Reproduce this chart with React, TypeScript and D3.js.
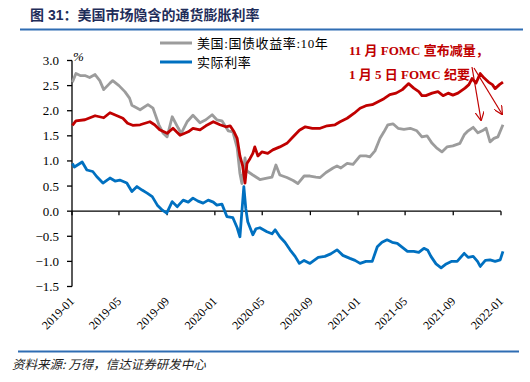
import React from "react";
import * as d3 from "d3";

// ---- data ----
const nominal10y: [string, number][] = [
  ["2019-01-02", 2.57], ["2019-01-11", 2.74], ["2019-01-22", 2.70], ["2019-02-03", 2.70], ["2019-02-15", 2.66],
  ["2019-03-01", 2.72], ["2019-03-13", 2.60], ["2019-03-23", 2.42], ["2019-04-08", 2.55], ["2019-04-15", 2.60],
  ["2019-05-01", 2.50], ["2019-05-16", 2.38], ["2019-05-28", 2.25], ["2019-06-03", 2.11], ["2019-06-24", 2.02],
  ["2019-07-14", 2.12], ["2019-07-27", 2.05], ["2019-08-11", 1.72], ["2019-08-22", 1.55], ["2019-09-01", 1.48],
  ["2019-09-14", 1.88], ["2019-09-29", 1.66], ["2019-10-07", 1.55], ["2019-10-22", 1.78], ["2019-11-06", 1.91],
  ["2019-11-24", 1.76], ["2019-12-09", 1.82], ["2019-12-25", 1.92], ["2020-01-06", 1.82], ["2020-01-19", 1.80],
  ["2020-02-04", 1.60], ["2020-02-16", 1.58], ["2020-02-27", 1.26], ["2020-03-05", 0.75], ["2020-03-10", 0.55],
  ["2020-03-18", 1.06], ["2020-03-23", 0.80], ["2020-04-07", 0.72], ["2020-04-25", 0.63], ["2020-05-13", 0.66],
  ["2020-05-26", 0.68], ["2020-06-05", 0.92], ["2020-06-15", 0.72], ["2020-07-03", 0.67], ["2020-07-19", 0.61],
  ["2020-07-31", 0.55], ["2020-08-16", 0.70], ["2020-08-31", 0.70], ["2020-09-15", 0.68], ["2020-09-26", 0.67],
  ["2020-10-11", 0.77], ["2020-10-29", 0.86], ["2020-11-08", 0.90], ["2020-11-18", 0.86], ["2020-12-04", 0.95],
  ["2020-12-19", 0.93], ["2021-01-06", 1.10], ["2021-01-21", 1.10], ["2021-01-31", 1.08], ["2021-02-13", 1.20],
  ["2021-02-26", 1.45], ["2021-03-08", 1.58], ["2021-03-18", 1.72], ["2021-03-31", 1.74], ["2021-04-13", 1.65],
  ["2021-04-28", 1.63], ["2021-05-14", 1.65], ["2021-05-31", 1.60], ["2021-06-13", 1.48], ["2021-06-26", 1.50],
  ["2021-07-09", 1.35], ["2021-07-22", 1.25], ["2021-08-03", 1.18], ["2021-08-16", 1.28], ["2021-08-31", 1.30],
  ["2021-09-18", 1.35], ["2021-09-29", 1.52], ["2021-10-09", 1.60], ["2021-10-22", 1.67], ["2021-11-03", 1.56],
  ["2021-11-14", 1.60], ["2021-11-24", 1.65], ["2021-12-04", 1.38], ["2021-12-14", 1.45], ["2021-12-24", 1.48],
  ["2022-01-06", 1.72],
];

const realRate: [string, number][] = [
  ["2019-01-02", 0.95], ["2019-01-07", 0.88], ["2019-01-27", 0.98], ["2019-02-08", 0.82], ["2019-02-23", 0.79],
  ["2019-03-05", 0.69], ["2019-03-21", 0.56], ["2019-04-08", 0.66], ["2019-04-21", 0.60], ["2019-05-03", 0.62],
  ["2019-05-21", 0.56], ["2019-06-03", 0.39], ["2019-06-16", 0.49], ["2019-06-29", 0.42], ["2019-07-12", 0.36],
  ["2019-07-25", 0.29], ["2019-08-07", 0.12], ["2019-08-20", 0.02], ["2019-08-31", -0.04], ["2019-09-14", 0.19],
  ["2019-09-27", 0.09], ["2019-10-12", 0.22], ["2019-10-25", 0.18], ["2019-11-06", 0.26], ["2019-11-19", 0.20],
  ["2019-12-02", 0.16], ["2019-12-15", 0.22], ["2019-12-28", 0.18], ["2020-01-06", 0.12], ["2020-01-19", 0.14],
  ["2020-02-01", -0.11], ["2020-02-16", -0.13], ["2020-02-27", -0.33], ["2020-03-05", -0.51], ["2020-03-15", 0.49],
  ["2020-03-20", 0.05], ["2020-03-25", -0.21], ["2020-04-07", -0.47], ["2020-04-15", -0.35], ["2020-04-25", -0.33],
  ["2020-05-13", -0.41], ["2020-05-26", -0.45], ["2020-06-03", -0.37], ["2020-06-15", -0.51], ["2020-06-28", -0.62],
  ["2020-07-11", -0.77], ["2020-07-24", -0.90], ["2020-08-04", -1.04], ["2020-08-16", -0.98], ["2020-08-31", -1.04],
  ["2020-09-21", -0.92], ["2020-10-08", -0.90], ["2020-10-23", -0.85], ["2020-11-08", -0.77], ["2020-11-23", -0.88],
  ["2020-12-11", -0.94], ["2020-12-24", -0.98], ["2021-01-06", -1.04], ["2021-01-21", -1.00], ["2021-02-06", -1.00],
  ["2021-02-19", -0.71], ["2021-03-03", -0.62], ["2021-03-16", -0.57], ["2021-03-29", -0.62], ["2021-04-11", -0.64],
  ["2021-04-24", -0.72], ["2021-05-07", -0.80], ["2021-05-23", -0.80], ["2021-06-05", -0.82], ["2021-06-18", -0.74],
  ["2021-06-28", -0.78], ["2021-07-06", -0.90], ["2021-07-19", -1.05], ["2021-08-01", -1.13], ["2021-08-14", -1.05],
  ["2021-08-27", -1.00], ["2021-09-11", -1.00], ["2021-09-29", -0.84], ["2021-10-09", -0.92], ["2021-10-22", -0.90],
  ["2021-11-02", -1.00], ["2021-11-09", -1.10], ["2021-11-22", -0.98], ["2021-12-04", -0.97], ["2021-12-17", -1.00],
  ["2021-12-30", -0.97], ["2022-01-06", -0.80],
];

const breakeven: [string, number][] = [
  ["2019-01-02", 1.71], ["2019-01-11", 1.80], ["2019-02-03", 1.82], ["2019-03-01", 1.90], ["2019-03-23", 1.86],
  ["2019-04-08", 1.96], ["2019-04-26", 1.90], ["2019-05-11", 1.85], ["2019-05-23", 1.75], ["2019-06-05", 1.71],
  ["2019-06-24", 1.72], ["2019-07-19", 1.78], ["2019-07-31", 1.72], ["2019-08-13", 1.62], ["2019-09-01", 1.55],
  ["2019-09-16", 1.65], ["2019-10-04", 1.51], ["2019-10-25", 1.58], ["2019-11-06", 1.65], ["2019-11-24", 1.62],
  ["2019-12-09", 1.70], ["2019-12-28", 1.78], ["2020-01-14", 1.72], ["2020-01-29", 1.68], ["2020-02-09", 1.70],
  ["2020-02-19", 1.58], ["2020-02-27", 1.45], ["2020-03-05", 1.10], ["2020-03-12", 0.90], ["2020-03-18", 0.56],
  ["2020-03-23", 0.95], ["2020-03-31", 1.05], ["2020-04-07", 1.15], ["2020-04-12", 1.28], ["2020-04-20", 1.10],
  ["2020-04-30", 1.18], ["2020-05-15", 1.15], ["2020-05-28", 1.22], ["2020-06-15", 1.28], ["2020-07-03", 1.35],
  ["2020-07-19", 1.48], ["2020-08-04", 1.61], ["2020-08-19", 1.68], ["2020-09-06", 1.65], ["2020-09-26", 1.65],
  ["2020-10-14", 1.70], ["2020-11-03", 1.72], ["2020-11-16", 1.78], ["2020-12-04", 1.85], ["2020-12-22", 1.95],
  ["2021-01-06", 2.05], ["2021-01-21", 2.10], ["2021-02-06", 2.12], ["2021-02-21", 2.18], ["2021-03-08", 2.24],
  ["2021-03-23", 2.32], ["2021-04-08", 2.35], ["2021-04-24", 2.42], ["2021-05-10", 2.54], ["2021-05-23", 2.45],
  ["2021-06-05", 2.38], ["2021-06-13", 2.30], ["2021-06-23", 2.30], ["2021-07-09", 2.35], ["2021-07-24", 2.38],
  ["2021-08-06", 2.30], ["2021-08-19", 2.35], ["2021-08-31", 2.31], ["2021-09-13", 2.35], ["2021-10-01", 2.45],
  ["2021-10-11", 2.52], ["2021-10-19", 2.64], ["2021-10-29", 2.55], ["2021-11-09", 2.74], ["2021-11-19", 2.65],
  ["2021-11-30", 2.57], ["2021-12-10", 2.52], ["2021-12-17", 2.44], ["2021-12-28", 2.52], ["2022-01-06", 2.57],
];

const yTicks = [3.0, 2.5, 2.0, 1.5, 1.0, 0.5, 0.0, -0.5, -1.0, -1.5];
const xTickLabels = ["2019-01", "2019-05", "2019-09", "2020-01", "2020-05", "2020-09", "2021-01", "2021-05", "2021-09", "2022-01"];

const titleText = "图 31：美国市场隐含的通货膨胀利率";
const legendNames = ["美国:国债收益率:10年", "实际利率"];
const annotationLines = ["11 月 FOMC 宣布减量，", "1 月 5 日 FOMC 纪要"];
const sourceText = "资料来源: 万得，信达证券研发中心";

// ---- styles ----
const W = 530;
const H = 382;
const M = { left: 72, right: 501, top: 60.5, bottom: 286.5 };
const GRAY = "#9c9c9c";
const RED = "#c00000";
const BLUE = "#0070c0";
const SERIF = "'Liberation Serif', 'Times New Roman', serif";
const CJK = "'Liberation Serif', 'Noto Sans CJK SC', serif";

const parse = d3.timeParse("%Y-%m-%d");
const parseM = d3.timeParse("%Y-%m");

export default function App() {
  const x = d3.scaleTime()
    .domain([parseM("2019-01")!, parseM("2022-01")!])
    .range([M.left, M.right]);
  const y = d3.scaleLinear().domain([-1.5, 3]).range([M.bottom, M.top]);

  const line = d3.line<[string, number]>()
    .x((d) => x(parse(d[0])!))
    .y((d) => y(d[1]));

  const y0 = y(0);
  const series = [
    { data: nominal10y, color: GRAY },
    { data: breakeven, color: RED },
    { data: realRate, color: BLUE },
  ];

  const arrows = [
    { x1: 472, y1: 67, x2: 481, y2: 120 },
    { x1: 474, y1: 68, x2: 502, y2: 114 },
  ];

  return (
    <svg
      width={W}
      height={H}
      style={{ position: "absolute", left: 0, top: 0, background: "#fff" }}
    >
      {/* title */}
      <text x={30} y={20} fontSize={14} fontWeight="bold" fill="#1f2d5a"
        fontFamily="'Liberation Sans', 'Noto Sans CJK SC', sans-serif">{titleText}</text>
      <line x1={20} x2={523} y1={29.5} y2={29.5} stroke="#2f6db3" strokeWidth={2} />

      {/* legend */}
      <line x1={160} x2={192} y1={43} y2={43} stroke={GRAY} strokeWidth={3} />
      <text x={197} y={47.5} fontSize={13} fontFamily={CJK} fill="#000" letterSpacing={0.6}>{legendNames[0]}</text>
      <line x1={160} x2={192} y1={62} y2={62} stroke={BLUE} strokeWidth={3} />
      <text x={197} y={66.5} fontSize={13} fontFamily={CJK} fill="#000" letterSpacing={0.6}>{legendNames[1]}</text>

      {/* y axis */}
      <line x1={M.left} x2={M.left} y1={M.top} y2={M.bottom} stroke="#000" strokeWidth={1.3} />
      {yTicks.map((t) => (
        <g key={t}>
          <line x1={M.left - 5} x2={M.left} y1={y(t)} y2={y(t)} stroke="#000" strokeWidth={1.3} />
          <text x={59} y={y(t)} dy="0.35em" textAnchor="end" fontSize={13} fontFamily={SERIF} fill="#000">
            {d3.format(".1f")(t)}
          </text>
        </g>
      ))}
      <text x={73} y={61} fontSize={13} fontStyle="italic" fontFamily={SERIF} fill="#000">%</text>

      {/* x axis at zero */}
      <line x1={M.left} x2={M.right} y1={y0} y2={y0} stroke="#000" strokeWidth={1.3} />
      {xTickLabels.map((lab) => {
        const tx = x(parseM(lab)!);
        return (
          <g key={lab}>
            <line x1={tx} x2={tx} y1={y0} y2={y0 + 4} stroke="#000" strokeWidth={1.3} />
            <text
              transform={`translate(${tx + 3},${302}) rotate(-45)`}
              textAnchor="end"
              fontSize={12}
              fontFamily={SERIF}
              fill="#000"
            >
              {lab}
            </text>
          </g>
        );
      })}

      {/* series */}
      {series.map((s, i) => (
        <path key={i} d={line(s.data) ?? ""} fill="none" stroke={s.color} strokeWidth={2.8} strokeLinejoin="round" />
      ))}

      {/* annotation */}
      <text x={349} y={55} fontSize={13} fontWeight="bold" fontFamily={CJK} fill={RED}>{annotationLines[0]}</text>
      <text x={349} y={79} fontSize={13} fontWeight="bold" fontFamily={CJK} fill={RED}>{annotationLines[1]}</text>
      <defs>
        <marker id="arr" viewBox="0 0 10 10" refX={9} refY={5} markerWidth={9} markerHeight={9} orient="auto" markerUnits="userSpaceOnUse">
          <path d="M0,0 L10,5 L0,10" fill="none" stroke={RED} strokeWidth={1.3} />
        </marker>
      </defs>
      {arrows.map((a, i) => (
        <line key={i} x1={a.x1} y1={a.y1} x2={a.x2} y2={a.y2} stroke={RED} strokeWidth={1.2} markerEnd="url(#arr)" />
      ))}

      {/* footer */}
      <line x1={18} x2={519} y1={351.5} y2={351.5} stroke="#2f6db3" strokeWidth={2} />
      <text x={12} y={369} fontSize={12.5} fontStyle="italic" fontFamily="'Noto Sans CJK SC', sans-serif" fill="#222">
        {sourceText}
      </text>
    </svg>
  );
}
